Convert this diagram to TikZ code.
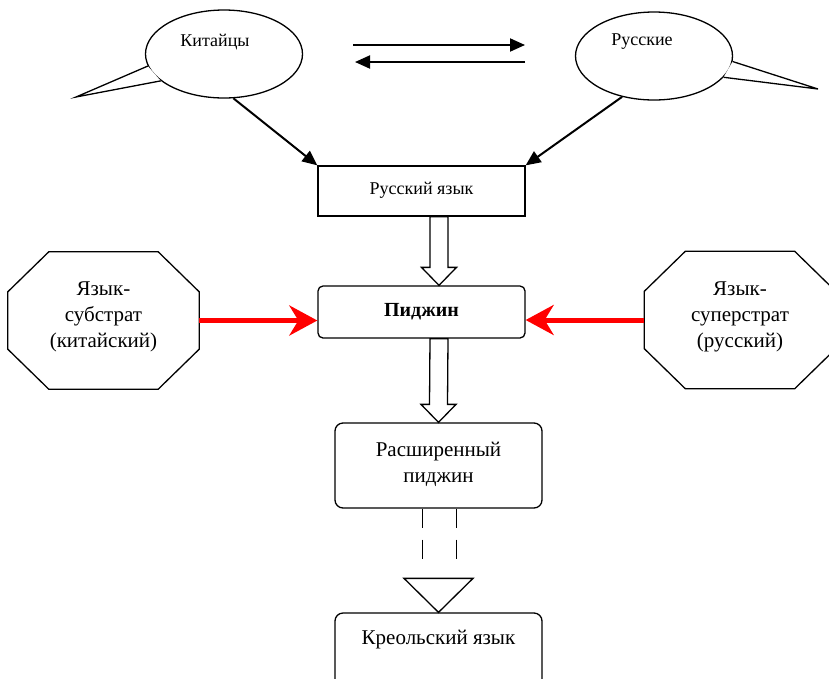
\documentclass[tikz,border=0pt]{standalone}
\usepackage{fontspec}
\setmainfont{Liberation Serif}
\newfontfamily\tnr{Liberation Serif}
\usetikzlibrary{arrows.meta,shapes.geometric}

\newcommand{\hollowarrow}[2]{\draw[hollow] ([xshift=-9pt]#1) -- ([xshift=-9pt,yshift=18pt]#2) -- ([xshift=-17.5pt,yshift=18pt]#2) -- (#2) -- ([xshift=17.5pt,yshift=18pt]#2) -- ([xshift=9pt,yshift=18pt]#2) -- ([xshift=9pt]#1) -- cycle;}
\newcommand{\octagon}[1]{\draw[line width=1.3pt] ([xshift=41pt]#1.north west) -- ([xshift=-41pt]#1.north east) -- ([yshift=-40pt]#1.north east) -- ([yshift=40pt]#1.south east) -- ([xshift=-41pt]#1.south east) -- ([xshift=41pt]#1.south west) -- ([yshift=40pt]#1.south west) -- ([yshift=-40pt]#1.north west) -- cycle;}

\begin{document}
\begin{tikzpicture}[x=1pt,y=-1pt,
  small/.style={font=\tnr\fontsize{18}{21}\selectfont},
  box/.style={draw,line width=1.3pt,minimum width=207pt,minimum height=50pt,inner sep=0pt,align=center,small},
  rbox/.style={draw,line width=1.3pt,rounded corners=8pt,minimum width=207pt,minimum height=85pt,inner sep=0pt,align=center,font=\tnr\fontsize{21}{26}\selectfont},
  balloon/.style={draw,fill=white,ellipse,line width=1.3pt,minimum width=157pt,minimum height=88pt,inner sep=0pt},
  oct/.style={minimum width=191pt,minimum height=137pt,inner sep=0pt,align=center,font=\tnr\fontsize{21}{26}\selectfont},
  sarrow/.style={line width=2pt,-{Triangle[length=15pt,width=13pt]}},
  redarrow/.style={color=red,line width=5pt,-{Stealth[length=28pt,width=30pt,inset=9pt]}},
  hollow/.style={line width=1.3pt,fill=white}]
\useasboundingbox (0,0) rectangle (829,678);
\clip (0,0) rectangle (829,678);

% speakers
\node[balloon] (chin) at (224,54) {};
\coordinate (chintip) at (76,97);
\fill[white] (chin.189) -- (chintip) -- (chin.203) -- cycle;
\draw[line width=1.3pt] (chin.189) -- (chintip) -- (chin.203);
\node[small] (chinlab) at ([xshift=-9pt,yshift=12pt]chin.center) {Китайцы};

\node[balloon] (russ) at (654,56) {};
\coordinate (russtip) at (818,89);
\fill[white] (russ.356) -- (russtip) -- (russ.343) -- cycle;
\draw[line width=1.3pt] (russ.356) -- (russtip) -- (russ.343);
\node[small] (russlab) at ([xshift=-12pt,yshift=14pt]russ.center) {Русские};

\coordinate (ta) at (353,45);
\coordinate (tb) at (525,45);
\coordinate (tc) at (525,62);
\coordinate (td) at (355,62);
\draw[sarrow] (ta) -- (tb);
\draw[sarrow] (tc) -- (td);

% languages
\node[box] (rusyaz) at (421.5,191) {Русский язык\\[-15pt]\mbox{}};
\node[box,rounded corners=5pt,minimum height=52pt,font=\tnr\fontsize{20}{24}\selectfont\bfseries] (pidgin) at (421.5,312) {Пиджин};
\node[rbox] (expid) at (438.5,465.5) {Расширенный\\пиджин\\[-20pt]\mbox{}};
\node[rbox] (kreol) at (438.5,655.5) {Креольский язык\\[10pt]\mbox{}};

\node[oct] (subs) at (103.5,320.5) {Язык-\\субстрат\\(китайский)\\[-15pt]\mbox{}};
\octagon{subs}
\node[oct] (super) at (740,320) {Язык-\\суперстрат\\(русский)\\[-15pt]\mbox{}};
\octagon{super}

\draw[sarrow] (chin.282) -- (rusyaz.north west);
\draw[sarrow] (russ.232) -- (rusyaz.north east);

\draw[redarrow] (subs.east) -- (subs.east -| pidgin.west);
\draw[redarrow] (super.west) -- (super.west -| pidgin.east);

\coordinate (h1a) at ([xshift=17.5pt]rusyaz.south);
\coordinate (h1b) at ([xshift=17.5pt]pidgin.north);
\hollowarrow{h1a}{h1b}
\coordinate (h2a) at ([xshift=17.5pt]pidgin.south);
\coordinate (h2b) at (expid.north);
\hollowarrow{h2a}{h2b}

% dashed hollow arrow
\coordinate (da) at ([xshift=-16pt]expid.south);
\coordinate (db) at ([xshift=18pt]expid.south);
\draw[line width=1.3pt,dash pattern=on 19pt off 12pt] (da) -- ++(0,55);
\draw[line width=1.3pt,dash pattern=on 19pt off 12pt] (db) -- ++(0,55);
\draw[hollow] ([xshift=-34.5pt,yshift=34pt]kreol.north) -- ([xshift=34.5pt,yshift=34pt]kreol.north) -- (kreol.north) -- cycle;
\end{tikzpicture}
\end{document}
